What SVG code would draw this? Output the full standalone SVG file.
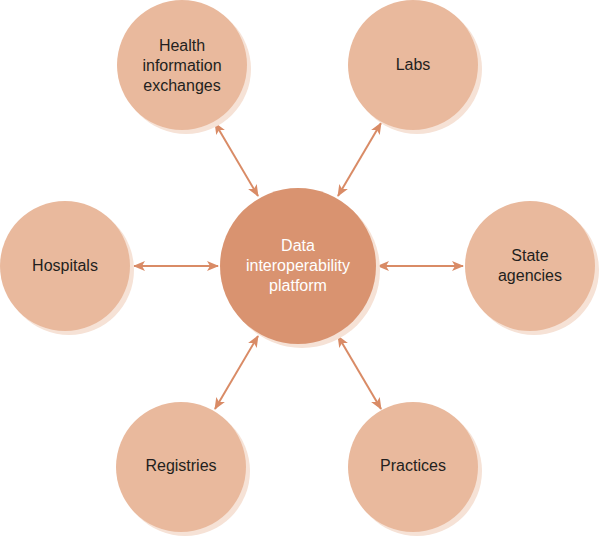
<svg xmlns="http://www.w3.org/2000/svg" width="599" height="536" viewBox="0 0 599 536">
<defs>
<style>
.sh{fill:#f6e2d6}
.node{fill:#e9b99d}
.hub{fill:#d99370}
.t{font-family:"Liberation Sans",Arial,sans-serif;font-size:16px;fill:#231f20;text-anchor:middle}
.tw{font-family:"Liberation Sans",Arial,sans-serif;font-size:16px;fill:#ffffff;text-anchor:middle}
.c{stroke:#d98b66;stroke-width:2;fill:none;marker-start:url(#ah);marker-end:url(#ah)}
</style>
<marker id="ah" viewBox="0 0 12 10" refX="11" refY="5" markerWidth="12" markerHeight="10" markerUnits="userSpaceOnUse" orient="auto-start-reverse">
<path d="M0,0 L12,5 L0,10 L3,5 Z" fill="#d98b66"/>
</marker>
</defs>
<g id="connectors">
<line class="c" x1="134" y1="266" x2="218" y2="266"/>
<line class="c" x1="378" y1="266" x2="463" y2="266"/>
<line class="c" x1="215" y1="123" x2="258" y2="196"/>
<line class="c" x1="381" y1="123" x2="338" y2="196"/>
<line class="c" x1="258" y1="336" x2="215" y2="409"/>
<line class="c" x1="338" y1="336" x2="381" y2="409"/>
</g>
<g id="hub">
<circle class="sh" cx="302" cy="270" r="78"/>
<circle class="hub" cx="298" cy="266" r="78"/>
<text class="tw" x="298" y="251">Data</text>
<text class="tw" x="298" y="271">interoperability</text>
<text class="tw" x="298" y="291">platform</text>
</g>
<g id="hie">
<circle class="sh" cx="186" cy="69" r="65"/>
<circle class="node" cx="182" cy="65" r="65"/>
<text class="t" x="182" y="51">Health</text>
<text class="t" x="182" y="71">information</text>
<text class="t" x="182" y="91">exchanges</text>
</g>
<g id="labs">
<circle class="sh" cx="417" cy="69" r="65"/>
<circle class="node" cx="413" cy="65" r="65"/>
<text class="t" x="413" y="70">Labs</text>
</g>
<g id="hospitals">
<circle class="sh" cx="69" cy="270" r="65"/>
<circle class="node" cx="65" cy="266" r="65"/>
<text class="t" x="65" y="271">Hospitals</text>
</g>
<g id="state">
<circle class="sh" cx="534" cy="270" r="65"/>
<circle class="node" cx="530" cy="266" r="65"/>
<text class="t" x="530" y="261">State</text>
<text class="t" x="530" y="281">agencies</text>
</g>
<g id="registries">
<circle class="sh" cx="185" cy="471" r="65"/>
<circle class="node" cx="181" cy="467" r="65"/>
<text class="t" x="181" y="471">Registries</text>
</g>
<g id="practices">
<circle class="sh" cx="417" cy="471" r="65"/>
<circle class="node" cx="413" cy="467" r="65"/>
<text class="t" x="413" y="471">Practices</text>
</g>
</svg>
